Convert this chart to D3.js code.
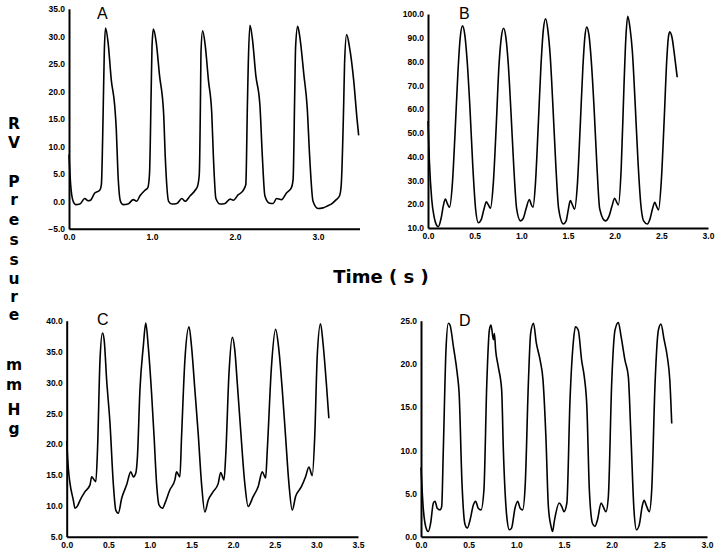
<!DOCTYPE html>
<html>
<head>
<meta charset="utf-8">
<script src="https://cdn.jsdelivr.net/npm/d3@7"></script>
<style>
  html, body { margin: 0; padding: 0; background: #fff; }
  svg { display: block; }
</style>
</head>
<body>
<svg id="chart"></svg>
<script>
// RV pressure traces, [time (s), pressure (mm Hg)]
const traceA = [[0,8.5],[0.02,3],[0.05,0],[0.08,-0.6],[0.13,-0.5],[0.19,0.5],[0.23,0.1],[0.26,0.2],[0.31,1.5],[0.37,2.0],[0.39,3],[0.41,15],[0.425,27],[0.44,31.5],[0.47,29],[0.51,22],[0.55,17.5],[0.57,13],[0.59,5],[0.62,0],[0.65,-0.6],[0.71,-0.5],[0.775,0.3],[0.815,0],[0.855,1.0],[0.915,2.0],[0.95,2.5],[0.97,5],[0.99,20],[1.0,28],[1.016,31.3],[1.05,29],[1.09,23],[1.14,16],[1.16,8],[1.20,0],[1.24,-0.5],[1.30,-0.4],[1.36,0.5],[1.40,0],[1.46,1.0],[1.52,2],[1.55,2.8],[1.57,5],[1.585,20],[1.59,27],[1.61,31],[1.64,28.5],[1.68,22],[1.72,16],[1.74,8],[1.77,0.5],[1.82,-0.5],[1.88,-0.4],[1.94,0.4],[1.98,0.2],[2.04,1.2],[2.09,1.8],[2.13,3],[2.15,18],[2.16,25],[2.18,32],[2.21,29.5],[2.25,23],[2.30,17.5],[2.33,8],[2.36,1],[2.41,-0.3],[2.46,-0.4],[2.50,0.5],[2.56,0.3],[2.62,1.5],[2.68,2.5],[2.70,4],[2.72,20],[2.73,28],[2.755,31.8],[2.78,30],[2.83,23],[2.87,17],[2.90,8],[2.94,0],[3.0,-1.3],[3.06,-1.2],[3.12,-0.8],[3.16,-0.5],[3.22,0.3],[3.26,1.0],[3.28,3],[3.31,18],[3.32,25],[3.345,30.3],[3.38,28],[3.43,22],[3.47,15],[3.49,12]];

const traceB = [[0,55],[0.015,38],[0.04,22],[0.065,14.8],[0.09,11.3],[0.11,10.5],[0.14,14],[0.165,19.5],[0.186,22.2],[0.21,20],[0.23,18.7],[0.26,28],[0.29,50],[0.32,75],[0.345,90],[0.37,95],[0.395,91],[0.42,80],[0.45,60],[0.48,36],[0.51,18],[0.54,12.2],[0.57,13.5],[0.60,18],[0.625,21],[0.65,19.5],[0.668,18.3],[0.70,29],[0.73,52],[0.76,78],[0.785,90],[0.81,94],[0.835,90],[0.86,79],[0.89,58],[0.92,35],[0.95,18],[0.99,13],[1.02,14],[1.05,18],[1.086,22],[1.105,20],[1.125,18.7],[1.15,28],[1.18,52],[1.21,78],[1.235,93],[1.26,98],[1.285,93],[1.31,82],[1.34,60],[1.37,36],[1.40,18],[1.45,11.7],[1.48,13],[1.50,17],[1.525,21.5],[1.55,19.5],[1.57,17.9],[1.60,28],[1.63,52],[1.66,78],[1.68,90],[1.70,94.5],[1.725,91],[1.75,80],[1.78,60],[1.81,36],[1.84,18],[1.90,13],[1.94,15],[1.97,19],[2.0,22.5],[2.02,21],[2.04,19.7],[2.07,35],[2.10,70],[2.12,90],[2.14,99],[2.165,94],[2.19,84],[2.22,62],[2.25,38],[2.28,20],[2.31,13],[2.35,11.7],[2.38,14],[2.405,18],[2.43,20.8],[2.45,19],[2.47,17.6],[2.50,30],[2.53,55],[2.56,82],[2.575,90],[2.59,92.5],[2.615,90],[2.64,83],[2.67,73.4]];

const traceC = [[0,20.5],[0.02,16],[0.04,13.6],[0.08,10.9],[0.1,9.6],[0.13,10],[0.16,10.9],[0.22,12.3],[0.28,13.4],[0.3,14.7],[0.33,14.2],[0.35,13.9],[0.37,19],[0.4,33.6],[0.43,38],[0.45,36.9],[0.48,30.4],[0.52,23.4],[0.56,13.6],[0.59,9.3],[0.62,8.8],[0.66,11.2],[0.72,13.4],[0.77,15.5],[0.8,14.7],[0.83,15.3],[0.85,18],[0.88,28.8],[0.92,35.8],[0.95,39.6],[0.98,35.8],[1.02,28.2],[1.05,21.2],[1.08,13.6],[1.11,10.1],[1.15,9.6],[1.18,10.4],[1.24,12.6],[1.3,14.2],[1.32,15.5],[1.36,14.7],[1.38,21.2],[1.42,33.6],[1.47,39],[1.5,35.8],[1.54,28.8],[1.58,21.7],[1.62,13.6],[1.66,9],[1.7,10.9],[1.76,12.3],[1.82,13.6],[1.85,15.4],[1.89,14.2],[1.91,18],[1.95,31.5],[1.99,37.3],[2.02,35.2],[2.05,29.8],[2.09,22.3],[2.14,13.6],[2.18,9.9],[2.24,11.5],[2.3,13.1],[2.35,15.5],[2.39,14.5],[2.41,19],[2.46,32.5],[2.51,38.6],[2.55,35.2],[2.59,28.8],[2.63,21.2],[2.67,13.6],[2.71,9.3],[2.75,11.5],[2.82,13.1],[2.87,14.7],[2.91,16.3],[2.95,14.9],[2.98,21.2],[3.01,34.2],[3.05,39.5],[3.08,36.3],[3.12,29.8],[3.15,24.2]];

const traceD = [[0,8],[0.025,3.1],[0.06,0.8],[0.077,0.6],[0.1,1.5],[0.13,3.9],[0.147,4.1],[0.17,3.3],[0.2,3.1],[0.217,3.5],[0.234,10],[0.262,21.6],[0.287,24.7],[0.304,24.5],[0.34,22],[0.38,18.9],[0.4,16.6],[0.43,6.2],[0.46,1.5],[0.486,1.0],[0.514,1.9],[0.55,3.7],[0.573,4.1],[0.6,3.3],[0.63,3.1],[0.66,5.4],[0.69,17.7],[0.717,23.9],[0.734,24.5],[0.76,22.8],[0.77,23.5],[0.783,21.6],[0.81,19.7],[0.846,17],[0.864,10],[0.9,2.3],[0.927,0.8],[0.95,1.0],[0.986,3.3],[1.014,4.1],[1.04,3.3],[1.066,3.1],[1.094,6.2],[1.126,17.7],[1.15,23.5],[1.18,24.7],[1.21,22.4],[1.25,20.4],[1.28,18.1],[1.31,11.6],[1.336,3.5],[1.364,1.2],[1.38,0.6],[1.4,1.9],[1.45,3.9],[1.476,3.5],[1.5,2.9],[1.53,3.9],[1.563,15.8],[1.6,22.8],[1.62,24.3],[1.65,23.9],[1.685,20.4],[1.713,18.5],[1.74,15],[1.766,5.4],[1.8,1.5],[1.825,1.2],[1.85,1.9],[1.89,3.9],[1.91,3.5],[1.94,2.9],[1.965,4.6],[2.0,17.7],[2.035,23.9],[2.07,24.8],[2.1,23.1],[2.14,20.4],[2.175,18.5],[2.2,12.3],[2.234,3.1],[2.26,0.8],[2.29,1.4],[2.32,3.5],[2.34,4.2],[2.367,3.5],[2.395,2.9],[2.42,5.4],[2.455,17.7],[2.49,23.9],[2.517,24.6],[2.55,22.8],[2.584,20.8],[2.61,18.1],[2.63,13.1]];

// axis domains and tick values
const panelLabels = ["A", "B", "C", "D"];
const xDomains = [[0, 3.5], [0, 3], [0, 3.5], [0, 3]];
const yDomains = [[-5, 35], [10, 100], [5, 40], [0, 25]];
const xTicksA = [0, 1, 2, 3];
const xTicksB = [0, 0.5, 1, 1.5, 2, 2.5, 3];
const xTicksC = [0, 0.5, 1, 1.5, 2, 2.5, 3, 3.5];
const xTicksD = [0, 0.5, 1, 1.5, 2, 2.5, 3];
const yTicksA = [-5, 0, 5, 10, 15, 20, 25, 30, 35];
const yTicksB = [10, 20, 30, 40, 50, 60, 70, 80, 90, 100];
const yTicksC = [5, 10, 15, 20, 25, 30, 35, 40];
const yTicksD = [0, 5, 10, 15, 20, 25];

const yLabelLetters = ["R", "V", "P", "r", "e", "s", "s", "u", "r", "e", "m", "m", "H", "g"];
const yLabelBaselines = [129, 148, 187, 205, 225, 245, 265, 284, 302, 320, 370, 390, 415, 434];
const xTitle = "Time ( s )";

const width = 724, height = 555;

// plot frames in pixels: left, right, top (max value), bottom (min value)
const frames = [
  { l: 69,  r: 359.5, t: 8.8,   b: 228.8 },
  { l: 428, r: 708,   t: 14,    b: 228 },
  { l: 66.7, r: 358,  t: 320.7, b: 536.7 },
  { l: 421, r: 707,   t: 320.7, b: 536.7 }
];
const labelPos = [[97, 18.5], [459, 18.5], [97, 325], [459, 326]];

const panels = [
  { data: traceA, xt: xTicksA, yt: yTicksA },
  { data: traceB, xt: xTicksB, yt: yTicksB },
  { data: traceC, xt: xTicksC, yt: yTicksC },
  { data: traceD, xt: xTicksD, yt: yTicksD }
];

const svg = d3.select("#chart")
  .attr("width", width)
  .attr("height", height)
  .style("font-family", "'Liberation Sans', Arial, sans-serif");

panels.forEach((p, i) => {
  const f = frames[i];
  const x = d3.scaleLinear().domain(xDomains[i]).range([f.l, f.r]);
  const y = d3.scaleLinear().domain(yDomains[i]).range([f.b, f.t]);
  const g = svg.append("g");

  // x axis
  const xa = g.append("g")
    .attr("transform", `translate(0,${f.b})`)
    .call(d3.axisBottom(x).tickValues(p.xt).tickSize(0).tickPadding(5)
      .tickFormat(d3.format(".1f")));
  // y axis
  const ya = g.append("g")
    .attr("transform", `translate(${f.l},0)`)
    .call(d3.axisLeft(y).tickValues(p.yt).tickSize(0).tickPadding(4)
      .tickFormat(d3.format(".1f")));

  [xa, ya].forEach(a => {
    a.select(".domain").attr("stroke", "#000").attr("stroke-width", 2);
    a.selectAll("text")
      .attr("fill", "#000")
      .style("font-size", "8.5px")
      .style("font-weight", "bold")
      .style("font-family", "'Liberation Sans', Arial, sans-serif");
  });

  // trace
  const line = d3.line()
    .x(d => x(d[0]))
    .y(d => y(d[1]))
    .curve(d3.curveMonotoneX);
  g.append("path")
    .datum(p.data)
    .attr("d", line)
    .attr("fill", "none")
    .attr("stroke", "#000")
    .attr("stroke-width", 1.6)
    .attr("stroke-linejoin", "round");

  // panel letter
  g.append("text")
    .attr("x", labelPos[i][0])
    .attr("y", labelPos[i][1])
    .style("font-size", "16px")
    .text(panelLabels[i]);
});

// vertical stacked y label
svg.append("g")
  .selectAll("text")
  .data(yLabelLetters)
  .enter().append("text")
  .attr("x", 14)
  .attr("y", (d, i) => yLabelBaselines[i])
  .attr("text-anchor", "middle")
  .style("font-family", "'DejaVu Sans', Verdana, sans-serif")
  .style("font-weight", "bold")
  .style("font-size", "15.5px")
  .text(d => d);

// x title
svg.append("text")
  .attr("x", 381)
  .attr("y", 283)
  .attr("text-anchor", "middle")
  .style("font-family", "'DejaVu Sans', Verdana, sans-serif")
  .style("font-weight", "bold")
  .style("font-size", "18px")
  .text(xTitle);
</script>
</body>
</html>
